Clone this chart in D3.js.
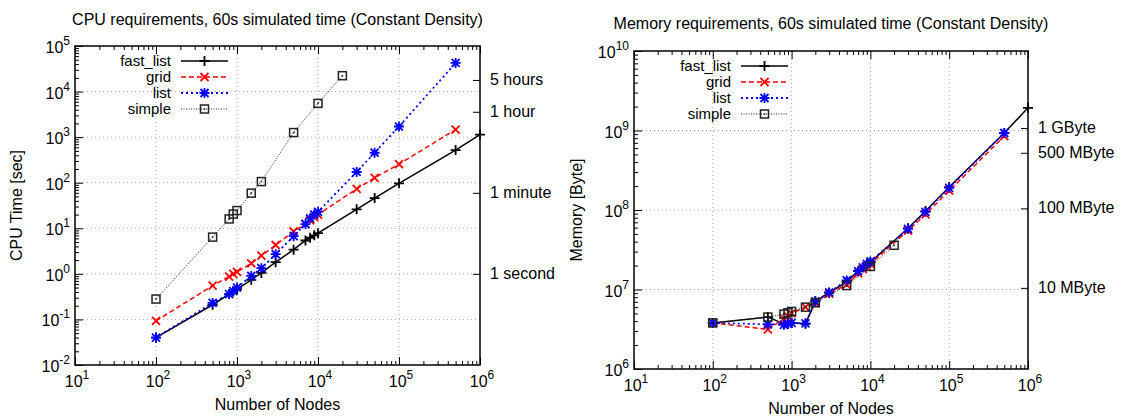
<!DOCTYPE html>
<html>
<head>
<meta charset="utf-8">
<script src="https://cdn.jsdelivr.net/npm/d3@7"></script>
<style>
body { margin: 0; background: #fff; }
text { font-family: "Liberation Sans", Arial, sans-serif; fill: #000; }
</style>
</head>
<body>
<svg id="chart" width="1121" height="418"></svg>
<script>
// node counts
const nodes = [100, 500, 800, 900, 1000, 1500, 2000, 3000, 5000, 7000, 8000, 9000, 10000, 30000, 50000, 100000, 500000];
const nodesFast = nodes.concat([1000000]);
const nodesSimple = [100, 500, 800, 900, 1000, 1500, 2000, 5000, 10000, 20000];

// CPU time [sec]
const cpuFastList = [0.04, 0.21, 0.36, 0.41, 0.46, 0.74, 1.05, 1.8, 3.4, 5.4, 6.2, 7.0, 7.8, 26, 46, 97, 520, 1140];
const cpuGrid = [0.093, 0.55, 0.87, 1.0, 1.1, 1.7, 2.5, 4.3, 8.5, 12.5, 15, 17.5, 20, 73, 128, 256, 1470];
const cpuList = [0.04, 0.23, 0.36, 0.42, 0.5, 0.9, 1.33, 2.7, 6.7, 12.4, 16.5, 20, 23, 172, 455, 1710, 42500];
const cpuSimple = [0.28, 6.4, 16, 20.5, 24.5, 59, 106, 1260, 5500, 22300];

// memory [Byte]
const memFastList = [3.8e6, 4.5e6, 3.7e6, 3.7e6, 3.8e6, 3.7e6, 7.1e6, 9.1e6, 1.25e7, 1.7e7, 1.9e7, 2.05e7, 2.2e7, 5.9e7, 9.7e7, 1.95e8, 9.3e8, 1.93e9];
const memGrid = [3.8e6, 3.15e6, 4.3e6, 4.6e6, 5.0e6, 6.0e6, 6.8e6, 8.9e6, 1.15e7, 1.6e7, 1.8e7, 1.95e7, 2.1e7, 5.5e7, 8.8e7, 1.75e8, 8.5e8];
const memList = [3.8e6, 3.65e6, 3.6e6, 3.7e6, 3.8e6, 3.75e6, 7.1e6, 9.2e6, 1.3e7, 1.7e7, 1.9e7, 2.1e7, 2.25e7, 5.8e7, 9.5e7, 1.9e8, 9.3e8];
const memSimple = [3.8e6, 4.5e6, 4.9e6, 5.1e6, 5.3e6, 6.0e6, 6.8e6, 1.12e7, 1.95e7, 3.6e7];

// right-hand labels
const timeTicks = [18000, 3600, 60, 1];
const timeLabels = ["5 hours", "1 hour", "1 minute", "1 second"];
const byteTicks = [1073741824, 524288000, 104857600, 10485760];
const byteLabels = ["1 GByte", "500 MByte", "100 MByte", "10 MByte"];

const seriesNames = ["fast_list", "grid", "list", "simple"];

const styles = {
    fast_list: {color: "#000", dash: null, width: 1.5, marker: "M-5,0H5M0,-5V5"},
    grid: {color: "#f00", dash: "5,3", width: 1.5, marker: "M-4,-4L4,4M-4,4L4,-4"},
    list: {color: "#00f", dash: "2,3", width: 1.8, marker: "M-5,0H5M0,-5V5M-4,-4L4,4M-4,4L4,-4"},
    simple: {color: "#222", dash: "1,1.5", width: 1, marker: "square"}
};

const svg = d3.select("#chart");

function pow10Label(g, x, y, exp, anchor) {
    const t = g.append("text")
        .attr("x", x).attr("y", y)
        .attr("text-anchor", anchor)
        .style("font-size", "16px");
    t.append("tspan").text("10");
    t.append("tspan").attr("dy", -8).style("font-size", "12px").text(exp);
}

function drawPanel(cfg) {
    const g = svg.append("g");
    const x = d3.scaleLog().domain([10, 1e6]).range([cfg.x0, cfg.x1]);
    const y = d3.scaleLog().domain(cfg.yDomain).range([cfg.y1, cfg.y0]);

    const xMajor = d3.range(1, 7).map(e => Math.pow(10, e));
    const yMajor = d3.range(Math.log10(cfg.yDomain[0]), Math.log10(cfg.yDomain[1]) + 1).map(e => Math.pow(10, e));
    const minor = dom => {
        const out = [];
        for (let e = Math.log10(dom[0]); e < Math.log10(dom[1]); e++)
            for (let k = 2; k < 10; k++) out.push(k * Math.pow(10, e));
        return out;
    };

    // grid
    g.append("g").selectAll("line").data(xMajor.slice(1, -1)).join("line")
        .attr("x1", d => x(d)).attr("x2", d => x(d))
        .attr("y1", cfg.y0).attr("y2", cfg.y1)
        .attr("stroke", "#aaa").attr("stroke-width", 1).attr("stroke-dasharray", "1,3");
    g.append("g").selectAll("line").data(yMajor.slice(1, -1)).join("line")
        .attr("y1", d => y(d)).attr("y2", d => y(d))
        .attr("x1", cfg.x0).attr("x2", cfg.x1)
        .attr("stroke", "#aaa").attr("stroke-width", 1).attr("stroke-dasharray", "1,3");

    // ticks (inward)
    const tickStyle = sel => {
        sel.select(".domain").remove();
        sel.selectAll("line").attr("stroke", "#000");
    };
    g.append("g").attr("transform", `translate(0,${cfg.y1})`)
        .call(d3.axisBottom(x).tickValues(xMajor).tickSize(-8).tickFormat("")).call(tickStyle);
    g.append("g").attr("transform", `translate(0,${cfg.y1})`)
        .call(d3.axisBottom(x).tickValues(minor([10, 1e6])).tickSize(-4).tickFormat("")).call(tickStyle);
    g.append("g").attr("transform", `translate(0,${cfg.y0})`)
        .call(d3.axisTop(x).tickValues(xMajor).tickSize(-8).tickFormat("")).call(tickStyle);
    g.append("g").attr("transform", `translate(0,${cfg.y0})`)
        .call(d3.axisTop(x).tickValues(minor([10, 1e6])).tickSize(-4).tickFormat("")).call(tickStyle);
    g.append("g").attr("transform", `translate(${cfg.x0},0)`)
        .call(d3.axisLeft(y).tickValues(yMajor).tickSize(-8).tickFormat("")).call(tickStyle);
    g.append("g").attr("transform", `translate(${cfg.x0},0)`)
        .call(d3.axisLeft(y).tickValues(minor(cfg.yDomain)).tickSize(-4).tickFormat("")).call(tickStyle);
    g.append("g").attr("transform", `translate(${cfg.x1},0)`)
        .call(d3.axisRight(y).tickValues(cfg.rightTicks).tickSize(-7).tickFormat("")).call(tickStyle);

    // border
    g.append("rect").attr("x", cfg.x0).attr("y", cfg.y0)
        .attr("width", cfg.x1 - cfg.x0).attr("height", cfg.y1 - cfg.y0)
        .attr("fill", "none").attr("stroke", "#000").attr("stroke-width", 1.5);

    // tick labels
    xMajor.forEach(d => pow10Label(g, x(d) + 2, cfg.y1 + 22, Math.round(Math.log10(d)), "middle"));
    yMajor.forEach(d => pow10Label(g, cfg.x0 - 5, y(d) + 7, Math.round(Math.log10(d)), "end"));
    cfg.rightTicks.forEach((d, i) => {
        g.append("text").attr("x", cfg.x1 + 10).attr("y", y(d) + 5)
            .style("font-size", "16px").text(cfg.rightLabels[i]);
    });

    // titles
    g.append("text").attr("x", (cfg.x0 + cfg.x1) / 2 + cfg.titleDx).attr("y", cfg.titleY)
        .attr("text-anchor", "middle").style("font-size", "16px").text(cfg.title);
    g.append("text").attr("x", (cfg.x0 + cfg.x1) / 2).attr("y", cfg.y1 + 45)
        .attr("text-anchor", "middle").style("font-size", "16px").text("Number of Nodes");
    g.append("text").attr("transform", `translate(${cfg.yLabelX},${(cfg.y0 + cfg.y1) / 2}) rotate(-90)`)
        .attr("text-anchor", "middle").style("font-size", "16px").text(cfg.yLabel);

    // series
    const line = d3.line().x(d => x(d[0])).y(d => y(d[1]));
    const drawMarker = (sel, st) => {
        if (st.marker === "square") {
            sel.append("rect").attr("x", -4).attr("y", -4).attr("width", 8).attr("height", 8)
                .attr("fill", "none").attr("stroke", st.color).attr("stroke-width", 1.5);
            sel.append("rect").attr("x", -0.8).attr("y", -0.8).attr("width", 1.6).attr("height", 1.6)
                .attr("fill", st.color);
        } else {
            sel.append("path").attr("d", st.marker).attr("fill", "none")
                .attr("stroke", st.color).attr("stroke-width", 1.8);
        }
    };
    cfg.series.forEach(s => {
        const st = styles[s.name];
        const pts = s.nodes.map((n, i) => [n, s.values[i]]);
        g.append("path").datum(pts).attr("d", line)
            .attr("fill", "none").attr("stroke", st.color)
            .attr("stroke-width", st.width)
            .attr("stroke-dasharray", st.dash);
        g.append("g").selectAll("g").data(pts).join("g")
            .attr("transform", d => `translate(${x(d[0])},${y(d[1])})`)
            .each(function () { drawMarker(d3.select(this), st); });
    });

    // legend
    seriesNames.forEach((name, i) => {
        const st = styles[name];
        const ly = cfg.legY + i * 16;
        g.append("text").attr("x", cfg.legX).attr("y", ly + 5)
            .attr("text-anchor", "end").style("font-size", "15px").text(name);
        g.append("line").attr("x1", cfg.legX + 10).attr("x2", cfg.legX + 57)
            .attr("y1", ly).attr("y2", ly)
            .attr("stroke", st.color).attr("stroke-width", st.width)
            .attr("stroke-dasharray", st.dash);
        drawMarker(g.append("g").attr("transform", `translate(${cfg.legX + 33.5},${ly})`), st);
    });
}

drawPanel({
    x0: 75, x1: 480, y0: 46, y1: 365,
    yDomain: [1e-2, 1e5],
    title: "CPU requirements, 60s simulated time (Constant Density)", titleY: 25, titleDx: 0,
    yLabel: "CPU Time [sec]", yLabelX: 22,
    rightTicks: timeTicks, rightLabels: timeLabels,
    legX: 171, legY: 61,
    series: [
        {name: "fast_list", nodes: nodesFast, values: cpuFastList},
        {name: "grid", nodes: nodes, values: cpuGrid},
        {name: "list", nodes: nodes, values: cpuList},
        {name: "simple", nodes: nodesSimple, values: cpuSimple}
    ]
});

drawPanel({
    x0: 634, x1: 1028, y0: 51, y1: 369,
    yDomain: [1e6, 1e10],
    title: "Memory requirements, 60s simulated time (Constant Density)", titleY: 29, titleDx: 0,
    yLabel: "Memory [Byte]", yLabelX: 582,
    rightTicks: byteTicks, rightLabels: byteLabels,
    legX: 731, legY: 66,
    series: [
        {name: "fast_list", nodes: nodesFast, values: memFastList},
        {name: "grid", nodes: nodes, values: memGrid},
        {name: "list", nodes: nodes, values: memList},
        {name: "simple", nodes: nodesSimple, values: memSimple}
    ]
});
</script>
</body>
</html>
